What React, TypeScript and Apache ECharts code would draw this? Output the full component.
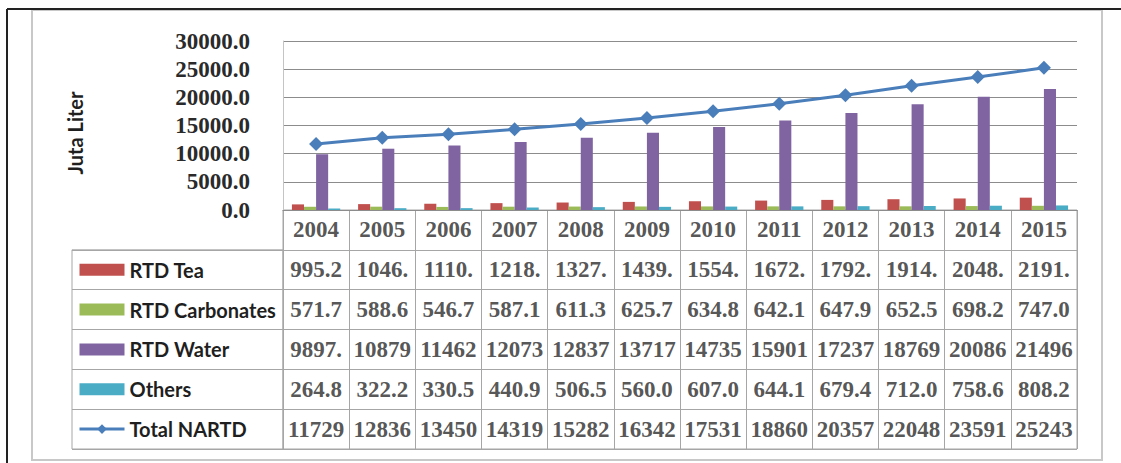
import React, { useEffect, useRef } from "react";
import * as echarts from "echarts";

const years = ["2004", "2005", "2006", "2007", "2008", "2009", "2010", "2011", "2012", "2013", "2014", "2015"];
const rtdTea = [995.2, 1046.0, 1110.0, 1218.0, 1327.0, 1439.0, 1554.0, 1672.0, 1792.0, 1914.0, 2048.0, 2191.0];
const rtdCarbonates = [571.7, 588.6, 546.7, 587.1, 611.3, 625.7, 634.8, 642.1, 647.9, 652.5, 698.2, 747.0];
const rtdWater = [9897, 10879, 11462, 12073, 12837, 13717, 14735, 15901, 17237, 18769, 20086, 21496];
const others = [264.8, 322.2, 330.5, 440.9, 506.5, 560.0, 607.0, 644.1, 679.4, 712.0, 758.6, 808.2];
const totalNartd = [11729, 12836, 13450, 14319, 15282, 16342, 17531, 18860, 20357, 22048, 23591, 25243];

const seriesNames = ["RTD Tea", "RTD Carbonates", "RTD Water", "Others", "Total NARTD"];
const seriesColors = ["#C0504D", "#9BBB59", "#8064A2", "#4BACC6", "#4A7EBB"];
const yAxisTitle = "Juta Liter";
const yMin = 0;
const yMax = 30000;
const yStep = 5000;

const W = 1121;
const H = 463;
const plotLeft = 283;
const plotRight = 1077;
const plotTop = 41;
const plotBottom = 210;
const tableBottom = 449;
const legendColLeft = 72;

const fmt = (v: number) => v.toFixed(1).slice(0, 5);

export default function App() {
  const ref = useRef<HTMLDivElement>(null);
  useEffect(() => {
    if (!ref.current) return;
    const chart = echarts.init(ref.current, undefined, { renderer: "svg", width: W, height: H });
    const allSeries = [rtdTea, rtdCarbonates, rtdWater, others, totalNartd];
    const rowCats = ["Year", ...seriesNames];
    const rowH = (tableBottom - plotBottom) / rowCats.length;

    const cellData: any[] = [];
    years.forEach((y, c) => cellData.push([c, 0, y]));
    allSeries.forEach((arr, r) => arr.forEach((v, c) => cellData.push([c, r + 1, fmt(v)])));

    const numFont = { fontFamily: "Liberation Serif", fontWeight: "bold" as const, fontSize: 23, color: "#2a2a2a" };
    const borderColor = "#a6a6a6";

    const barSeries = [0, 1, 2, 3].map((i) => ({
      name: seriesNames[i],
      type: "bar",
      xAxisIndex: 0,
      yAxisIndex: 0,
      data: allSeries[i],
      barGap: "0%",
      barCategoryGap: "27%",
      itemStyle: { color: seriesColors[i] },
      z: 2,
    }));

    chart.setOption({
      animation: false,
      color: seriesColors,
      grid: [
        { left: plotLeft, top: plotTop, width: plotRight - plotLeft, height: plotBottom - plotTop, containLabel: false },
        {
          left: plotLeft,
          top: plotBottom,
          width: plotRight - plotLeft,
          height: tableBottom - plotBottom,
          show: true,
          borderColor,
          borderWidth: 1,
          backgroundColor: "transparent",
        },
        {
          left: legendColLeft,
          top: plotBottom + rowH,
          width: plotLeft - legendColLeft,
          height: tableBottom - plotBottom - rowH,
          show: true,
          borderColor,
          borderWidth: 1,
          backgroundColor: "transparent",
        },
      ],
      xAxis: [
        {
          gridIndex: 0,
          type: "category",
          data: years,
          axisLine: { show: true, lineStyle: { color: "#8c8c8c", width: 1 } },
          axisTick: { show: false },
          axisLabel: { show: false },
        },
        {
          gridIndex: 1,
          type: "category",
          data: years,
          axisLine: { show: false },
          axisTick: { show: false },
          axisLabel: { show: false },
          splitLine: { show: true, interval: 0, lineStyle: { color: borderColor, width: 1 } },
        },
        { gridIndex: 2, type: "value", show: false },
      ],
      yAxis: [
        {
          gridIndex: 0,
          type: "value",
          min: yMin,
          max: yMax,
          interval: yStep,
          axisLine: { show: true, lineStyle: { color: "#c4c4c4", width: 1 } },
          axisTick: { show: false },
          axisLabel: { ...numFont, margin: 33, formatter: (v: number) => v.toFixed(1) },
          splitLine: { show: true, lineStyle: { color: "#8c8c8c", width: 1 } },
        },
        {
          gridIndex: 1,
          type: "category",
          data: rowCats,
          inverse: true,
          axisLine: { show: false },
          axisTick: { show: false },
          axisLabel: { show: false },
          splitLine: { show: true, interval: 0, lineStyle: { color: borderColor, width: 1 } },
        },
        {
          gridIndex: 2,
          type: "category",
          data: seriesNames,
          inverse: true,
          axisLine: { show: false },
          axisTick: { show: false },
          axisLabel: { show: false },
          splitLine: { show: true, interval: 0, lineStyle: { color: borderColor, width: 1 } },
        },
      ],
      legend: {
        orient: "vertical",
        left: 78,
        top: plotBottom + rowH * 1.5 - 11,
        padding: 0,
        itemWidth: 45,
        itemHeight: 12,
        itemGap: rowH - 22,
        selectedMode: false,
        textStyle: { fontFamily: "Lato", fontWeight: "bold", fontSize: 20, lineHeight: 22, color: "#1f1f1f", padding: [0, 0, 0, 0] },
        data: [
          { name: seriesNames[0], icon: "rect" },
          { name: seriesNames[1], icon: "rect" },
          { name: seriesNames[2], icon: "rect" },
          { name: seriesNames[3], icon: "rect" },
          { name: seriesNames[4], lineStyle: { width: 3 } },
        ],
      },
      graphic: [
        {
          type: "rect",
          shape: { x: 32, y: 10, width: 1070, height: 450 },
          style: { fill: "none", stroke: "#c8c8c8", lineWidth: 2 },
          z: -1,
        },
        { type: "line", shape: { x1: 7, y1: 9, x2: W, y2: 9 }, style: { stroke: "#222", lineWidth: 2 } },
        { type: "line", shape: { x1: 7, y1: 9, x2: 7, y2: H }, style: { stroke: "#222", lineWidth: 2 } },
        {
          type: "text",
          x: 75,
          y: 133,
          rotation: Math.PI / 2,
          style: {
            text: yAxisTitle,
            fontFamily: "Lato",
            fontWeight: "bold",
            fontSize: 20,
            fill: "#1f1f1f",
            align: "center",
            verticalAlign: "middle",
          },
        },
      ],
      series: [
        ...barSeries,
        {
          name: seriesNames[4],
          type: "line",
          xAxisIndex: 0,
          yAxisIndex: 0,
          data: totalNartd,
          symbol: "diamond",
          symbolSize: 14,
          lineStyle: { color: seriesColors[4], width: 3 },
          itemStyle: { color: seriesColors[4] },
          z: 5,
        },
        {
          name: "table",
          type: "scatter",
          xAxisIndex: 1,
          yAxisIndex: 1,
          data: cellData,
          symbolSize: 1,
          itemStyle: { color: "transparent" },
          label: {
            show: true,
            position: "inside",
            formatter: (p: any) => p.data[2],
            ...numFont,
          },
          z: 3,
        },
      ],
    });
    return () => chart.dispose();
  }, []);
  return <div ref={ref} style={{ position: "absolute", left: 0, top: 0, width: W, height: H, background: "#fff" }} />;
}
